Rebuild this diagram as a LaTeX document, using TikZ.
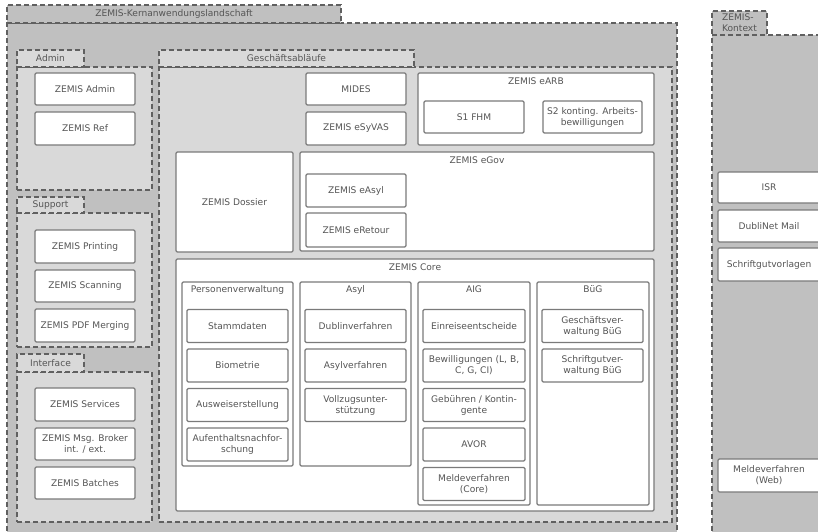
\documentclass[tikz,border=0pt]{standalone}
\usepackage{fontspec}
\setmainfont{DejaVu Sans}
\usepackage{xcolor}
\usetikzlibrary{positioning}
\definecolor{outergray}{HTML}{C0C0C0}
\definecolor{groupgray}{HTML}{D9D9D9}
\definecolor{dashgray}{HTML}{606060}
\definecolor{linegray}{HTML}{7A7A7A}
\definecolor{textgray}{HTML}{555555}
\tikzset{
every node/.style={text=textgray, inner sep=0pt, align=center},
frame/.style={draw=dashgray, dash pattern=on 5pt off 3pt, line width=1.4pt},
outer/.style={frame, fill=outergray},
group/.style={frame, fill=groupgray},
app/.style={draw=linegray, fill=white, line width=1.3pt, rounded corners=1.2pt},
title/.style={inner sep=0pt}
}
% box from corner (x1,y1) to corner (x2,y2)
\newcommand{\pane}[7][app]{\node[#1, minimum width={(#5)-(#3)}, minimum height={(#6)-(#4)}] (#2) at ({((#3)+(#5))/2},{((#4)+(#6))/2}) {#7};}

\begin{document}
\begin{tikzpicture}[x=1pt, y=-1pt, font=\fontsize{9.1}{11}\selectfont]
\useasboundingbox (0,0) rectangle (818,531);
\clip (0,0) rectangle (818,531);

% Kernanwendungen
\pane[outer]{kern}{7}{23}{677}{540}{}
\pane[outer]{kerntab}{7}{5}{341}{23}{ZEMIS-Kernanwendungslandschaft}

% Admin / Support / Interface
\pane[group]{admin}{17}{67}{152}{190}{}
\pane[group]{admintab}{17}{50}{84}{67}{Admin}
\pane{zadmin}{35}{73}{135}{105}{ZEMIS Admin}
\pane{zref}{35}{112}{135}{145}{ZEMIS Ref}

\pane[group]{support}{17}{213}{152}{347}{}
\pane[group]{supporttab}{17}{197}{84}{213}{Support}
\pane{zprint}{35}{230}{135}{263}{ZEMIS Printing}
\pane{zscan}{35}{270}{135}{302}{ZEMIS Scanning}
\pane{zpdf}{35}{309}{135}{342}{ZEMIS PDF Merging}

\pane[group]{iface}{17}{372}{152}{522}{}
\pane[group]{ifacetab}{17}{354}{84}{372}{Interface}
\pane{zserv}{35}{388}{135}{421}{ZEMIS Services}
\pane{zmsg}{35}{428}{135}{460}{ZEMIS Msg. Broker\\int. / ext.}
\pane{zbatch}{35}{467}{135}{499}{ZEMIS Batches}

% Geschaeftsablaeufe
\pane[group]{gesch}{159}{67}{672}{522}{}
\pane[group]{geschtab}{159}{50}{414}{67}{Geschäftsabläufe}
\pane{mides}{306}{73}{406}{105}{MIDES}
\pane{esyvas}{306}{112}{406}{145}{ZEMIS eSyVAS}

\pane{earb}{418}{73}{654}{145}{}
\node[title, below=5.5pt of earb.north] (earbt) {ZEMIS eARB};
\pane{sfhm}{424}{101}{524}{133}{S1 FHM}
\pane{skont}{543}{101}{642}{133}{S2 konting. Arbeits-\\bewilligungen}

\pane{dossier}{176}{152}{293}{252}{ZEMIS Dossier}
\pane{egov}{300}{152}{654}{251}{}
\node[title, below=5pt of egov.north] (egovt) {ZEMIS eGov};
\pane{easyl}{306}{174}{406}{207}{ZEMIS eAsyl}
\pane{eretour}{306}{213}{406}{247}{ZEMIS eRetour}

% Core
\pane{core}{176}{259}{654}{511}{}
\node[title, below=5pt of core.north] (coret) {ZEMIS Core};

\pane{pv}{182}{282}{293}{466}{}
\node[title, below=4pt of pv.north] (pvt) {Personenverwaltung};
\foreach \t [count=\i] in {Stammdaten, Biometrie, Ausweiserstellung, {Aufenthaltsnachfor-\\schung}}
  {\pane{pv\i}{187}{270+39.5*\i}{288}{303+39.5*\i}{\t}}

\pane{asyl}{300}{282}{411}{466}{}
\node[title, below=4pt of asyl.north] (asylt) {Asyl};
\foreach \t [count=\i] in {Dublinverfahren, Asylverfahren, {Vollzugsunter-\\stützung}}
  {\pane{asyl\i}{305}{270+39.5*\i}{406}{303+39.5*\i}{\t}}

\pane{aig}{418}{282}{530}{505}{}
\node[title, below=4pt of aig.north] (aigt) {AIG};
\foreach \t [count=\i] in {Einreiseentscheide, {Bewilligungen (L, B,\\C, G, CI)}, {Gebühren / Kontin-\\gente}, AVOR, {Meldeverfahren\\(Core)}}
  {\pane{aig\i}{423}{270+39.5*\i}{525}{303+39.5*\i}{\t}}

\pane{bueg}{537}{282}{649}{505}{}
\node[title, below=4pt of bueg.north] (buegt) {BüG};
\foreach \t [count=\i] in {{Geschäftsver-\\waltung BüG}, {Schriftgutver-\\waltung BüG}}
  {\pane{bueg\i}{542}{270+39.5*\i}{643}{303+39.5*\i}{\t}}

% Kontext
\pane[outer]{kontext}{712}{35}{830}{540}{}
\pane[outer, align=left]{kontexttab}{712}{11}{767}{35}{ZEMIS-\\Kontext}
\pane{isr}{718}{172}{820}{203}{ISR}
\pane{dublinet}{718}{210}{820}{242}{DubliNet Mail}
\pane{vorlagen}{718}{248}{820}{281}{Schriftgutvorlagen}
\pane{meldeweb}{718}{459}{820}{492}{Meldeverfahren\\(Web)}
\end{tikzpicture}
\end{document}
